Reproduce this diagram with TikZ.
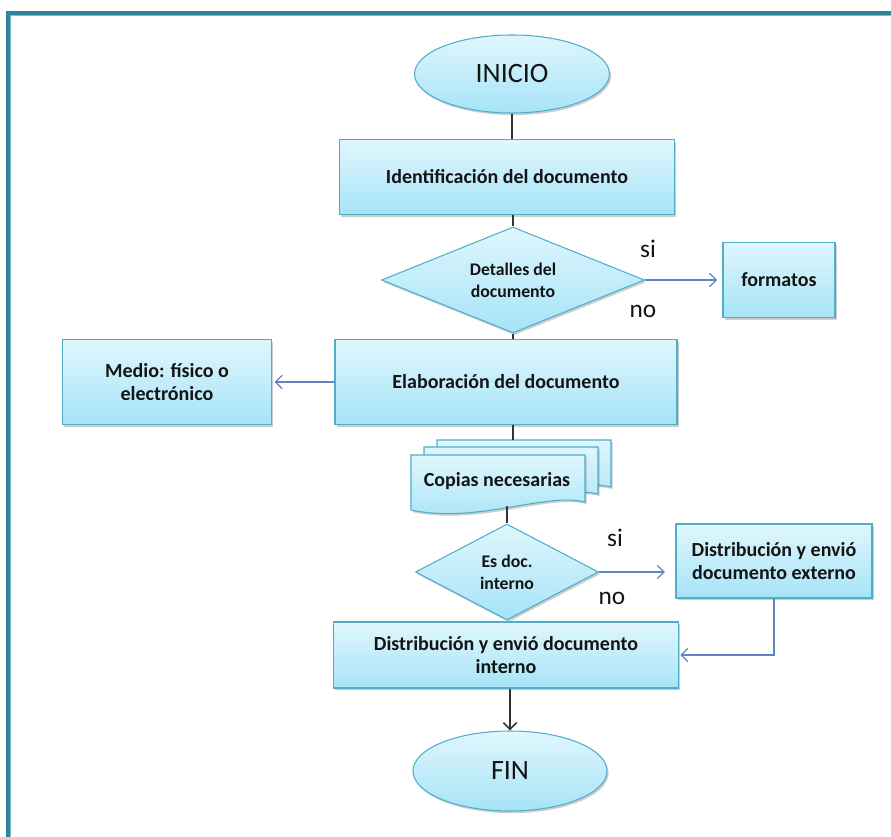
\documentclass[tikz,border=0pt]{standalone}
\usepackage{fontspec}
\setmainfont{Carlito}
\usetikzlibrary{shapes.geometric,shadows,arrows.meta}

\definecolor{frameteal}{HTML}{31849B}
\definecolor{framelight}{HTML}{78B9CB}
\definecolor{shapeline}{HTML}{4FAFCB}
\definecolor{filltop}{HTML}{E0F6FD}
\definecolor{fillbot}{HTML}{A6E4F7}
\definecolor{sideblue}{HTML}{5E84C2}
\definecolor{flowgray}{HTML}{333333}
\definecolor{inktext}{HTML}{141414}

\tikzset{
  sz/.style 2 args={minimum width=#1*0.75pt, minimum height=#2*0.75pt},
  shaded/.style={draw=shapeline, line width=0.8pt, top color=filltop, bottom color=fillbot,
    drop shadow={shadow xshift=1.2pt, shadow yshift=-1.6pt, opacity=0.28, fill=black!70},
    text=inktext, align=center, inner sep=0pt},
  boxfont/.style={font=\fontsize{15}{17.5}\selectfont\bfseries},
  proc/.style={shaded, rectangle, boxfont},
  decision/.style={shaded, diamond, font=\fontsize{13.3}{16.5}\selectfont\bfseries},
  terminal/.style={shaded, ellipse, font=\fontsize{21}{24}\selectfont},
  answer/.style={text=inktext, font=\fontsize{19}{22}\selectfont, inner sep=0pt},
  flow/.style={draw=flowgray, line width=1.2pt},
  side/.style={draw=sideblue, line width=0.9pt, -{Straight Barb[length=5pt,width=10pt]}},
  sheet/.style={draw=shapeline, line width=0.8pt, top color=filltop, bottom color=fillbot,
    drop shadow={shadow xshift=1.2pt, shadow yshift=-1.6pt, opacity=0.28, fill=black!70}},
}

\begin{document}
\begin{tikzpicture}[x=0.75pt, y=-0.75pt]
\useasboundingbox (0,0) rectangle (891,837);

% page frame (open to the right and bottom)
\draw[frameteal, line width=3pt] (8,837) -- (8,13) -- (891,13);
\draw[framelight, line width=0.8pt] (10.5,837) -- (10.5,15.5) -- (891,15.5);

% main column
\node[terminal, sz={195}{78}] (inicio) at (512,74) {INICIO};
\node[proc, sz={335}{75}] (ident) at (507,177) {Identificación del documento};
\node[decision, sz={263}{106}, aspect=2.48] (detalles) at (513,280) {Detalles del\\documento};
\node[proc, sz={112}{75}] (formatos) at (779,280) {formatos};
\node[proc, sz={342}{85}] (elab) at (506,382) {Elaboración del documento};
\node[proc, sz={209}{85}] (medio) at (167,382) {Medio: físico o\\electrónico};

% stacked document sheets
\foreach \dx/\dy in {26/-15, 13/-8, 0/0}{
  \path[sheet] (411+\dx,455+\dy) -- (585+\dx,455+\dy) -- (585+\dx,502+\dy)
    .. controls (545+\dx,492+\dy) and (478+\dx,524+\dy) .. (411+\dx,510+\dy) -- cycle;
}
\node[boxfont, text=inktext, inner sep=0pt] (copias) at (497,481) {Copias necesarias};
\coordinate (copytop) at (513,440);
\coordinate (copybot) at (507,506);

\node[decision, sz={183}{96}, aspect=1.9] (esdoc) at (507,572) {Es doc.\\interno};
\node[proc, sz={196}{74}] (externo) at (774,561) {Distribución y envió\\documento externo};
\node[proc, sz={345}{66}] (interno) at (506,655) {Distribución y envió documento\\interno};
\node[terminal, sz={194}{80}] (fin) at (510,771) {FIN};

% branch labels
\node[answer] (si1) at (648,249) {si};
\node[answer] (no1) at (643,311) {no};
\node[answer] (si2) at (615,538) {si};
\node[answer] (no2) at (612,598) {no};

% connectors
\draw[flow] (inicio.south) -- (inicio.south |- ident.north);
\draw[flow] (detalles.north |- ident.south) -- (detalles.north);
\draw[side, shorten >=4pt] (detalles.east) -- (formatos.west);
\draw[flow] (detalles.south) -- (detalles.south |- elab.north);
\draw[side, shorten >=2pt] (elab.west) -- (medio.east);
\draw[flow] (copytop |- elab.south) -- (copytop);
\draw[flow] (copybot) -- (esdoc.north);
\draw[side, shorten >=8pt] (esdoc.east) -- (esdoc.east -| externo.west);
\draw[side, shorten >=1pt] (externo.south) |- (interno.east);
\draw[flow, -{Straight Barb[length=5pt,width=10pt]}] (fin.north |- interno.south) -- (fin.north);
\end{tikzpicture}
\end{document}
